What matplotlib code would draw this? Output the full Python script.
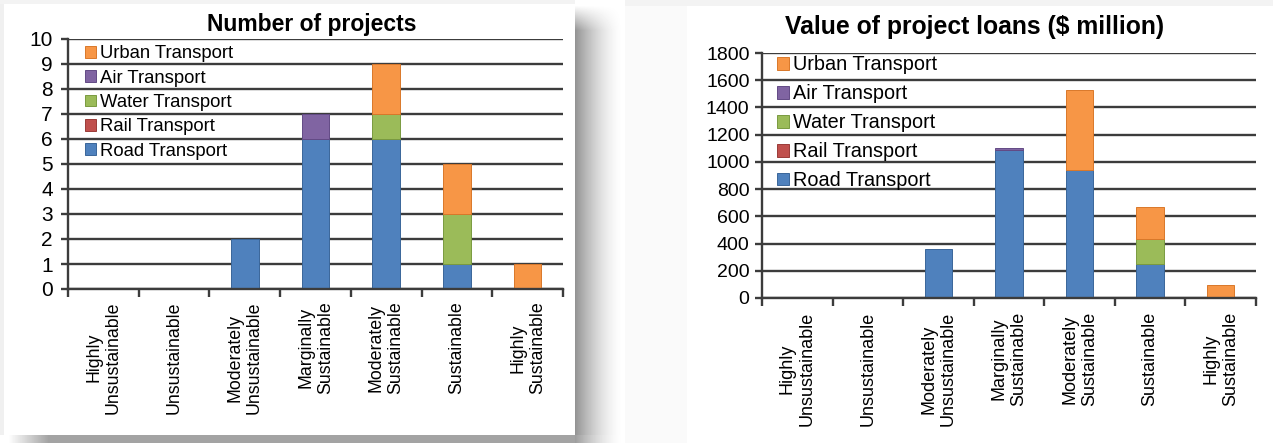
import numpy as np
import matplotlib
matplotlib.use("Agg")
import matplotlib.pyplot as plt
from matplotlib.patches import Patch

plt.rcParams['font.family'] = ['Liberation Sans', 'DejaVu Sans']

categories = ["Highly\nUnsustainable", "Unsustainable", "Moderately\nUnsustainable",
              "Marginally\nSustainable", "Moderately\nSustainable", "Sustainable",
              "Highly\nSustainable"]
modes = ["Road Transport", "Rail Transport", "Water Transport", "Air Transport", "Urban Transport"]
colors = ["#4F81BD", "#C0504D", "#9BBB59", "#8064A2", "#F79646"]
edges = ["#3A6699", "#9A3B38", "#7A9A40", "#634A85", "#D9782A"]

# number of projects
road_n = [0, 0, 2, 6, 6, 1, 0]
rail_n = [0, 0, 0, 0, 0, 0, 0]
water_n = [0, 0, 0, 0, 1, 2, 0]
air_n = [0, 0, 0, 1, 0, 0, 0]
urban_n = [0, 0, 0, 0, 2, 2, 1]

# value of project loans ($ million)
road_v = [0, 0, 360, 1085, 940, 250, 0]
rail_v = [0, 0, 0, 0, 0, 0, 0]
water_v = [0, 0, 0, 0, 0, 185, 0]
air_v = [0, 0, 0, 15, 0, 0, 0]
urban_v = [0, 0, 0, 0, 590, 230, 95]

W, H = 1273, 443
fig = plt.figure(figsize=(W / 100, H / 100), dpi=100)

# background picture: white panel with drop shadow on the left, light frame on the right
yy, xx = np.mgrid[0:H, 0:W].astype(float)
img = np.ones((H, W))
img[(yy < 6) & (xx > 575)] = 0.95
img[(xx < 4)] = 0.94
img[(yy < 4) & (xx < 575)] = 0.95
img[(xx > 620) & (xx < 687) & (yy >= 6)] = 0.98
top_fade = np.clip((yy - 5) / 25, 0, 1)
sx = np.clip(1 - (xx - 575) / 48, 0, 1) ** 1.6
right = (xx >= 575) & (xx < 625)
img[right] = 1 - 0.42 * sx[right] * top_fade[right]
left_fade = np.clip((xx - 8) / 40, 0, 1)
bottom = (yy >= 435) & (xx < 575)
img[bottom] = 1 - 0.36 * left_fade[bottom]
corner = (yy >= 435) & (xx >= 575) & (xx < 625)
img[corner] = 1 - 0.38 * sx[corner]

bg = fig.add_axes([0, 0, 1, 1], zorder=-5)
bg.imshow(img, cmap="gray", vmin=0, vmax=1, extent=(0, W, H, 0), interpolation="bilinear",
          aspect="auto")
bg.axis("off")


def stacked(ax, series, ymax, step, title, tx, tsize, tpad, fsize, lsize, legsize,
            legend_anchor, lspace, pad, ypad):
    x = np.arange(len(categories))
    base = np.zeros(len(categories))
    for vals, c, e in zip(series, colors, edges):
        lw = [0.7 if v > 0 else 0 for v in vals]
        ax.bar(x, vals, 0.39, bottom=base, color=c, edgecolor=e, linewidth=lw, zorder=3)
        base += np.array(vals)
    ax.set_xlim(-0.5, len(categories) - 0.5)
    ax.set_ylim(0, ymax)
    ax.set_yticks(np.arange(0, ymax + 1, step))
    ax.yaxis.grid(True, color="#3c3c3c", linewidth=1.7, zorder=1)
    ax.set_axisbelow(True)
    ax.patch.set_alpha(0)
    for s in ["top", "right"]:
        ax.spines[s].set_visible(False)
    for s in ["left", "bottom"]:
        ax.spines[s].set_color("#3c3c3c")
        ax.spines[s].set_linewidth(1.7)
        ax.spines[s].set_zorder(4)
    ax.set_xticks(x)
    ax.set_xticklabels(categories, rotation=90, ha="center", va="top",
                       multialignment="center", fontsize=lsize)
    ax.set_xticks(np.arange(-0.5, len(categories)), minor=True)
    ax.tick_params(axis="x", which="major", length=0, pad=pad)
    ax.tick_params(axis="x", which="minor", length=6, width=1.7, color="#3c3c3c", direction="out")
    ax.tick_params(axis="y", length=5, width=1.7, color="#3c3c3c", labelsize=fsize, pad=ypad)
    ax.set_title(title, fontsize=tsize, fontweight="bold", pad=tpad, x=tx)
    handles = [Patch(facecolor=c, edgecolor=e, linewidth=0.7, label=m)
               for m, c, e in zip(modes, colors, edges)]
    ax.legend(handles=handles[::-1], loc="upper left", bbox_to_anchor=legend_anchor,
              frameon=False, fontsize=legsize, handlelength=0.6, handleheight=0.6,
              handletextpad=0.2, labelspacing=lspace, borderaxespad=0, borderpad=0)


ax1 = fig.add_axes([68 / W, 1 - 289 / H, 495 / W, 250 / H])
stacked(ax1, [road_n, rail_n, water_n, air_n, urban_n], 10, 1, "Number of projects", 0.493,
        16.5, 6, 15, 12.8, 13.3, (0.035, 0.975), 0.4, 9, 6)

ax2 = fig.add_axes([762 / W, 1 - 298 / H, 494 / W, 245 / H])
stacked(ax2, [road_v, rail_v, water_v, air_v, urban_v], 1800, 200,
        "Value of project loans ($ million)", 0.43, 17.8, 14, 14, 13, 14.3,
        (0.03, 0.99), 0.5, 10, 4)

fig.savefig("out.png", dpi=100)
